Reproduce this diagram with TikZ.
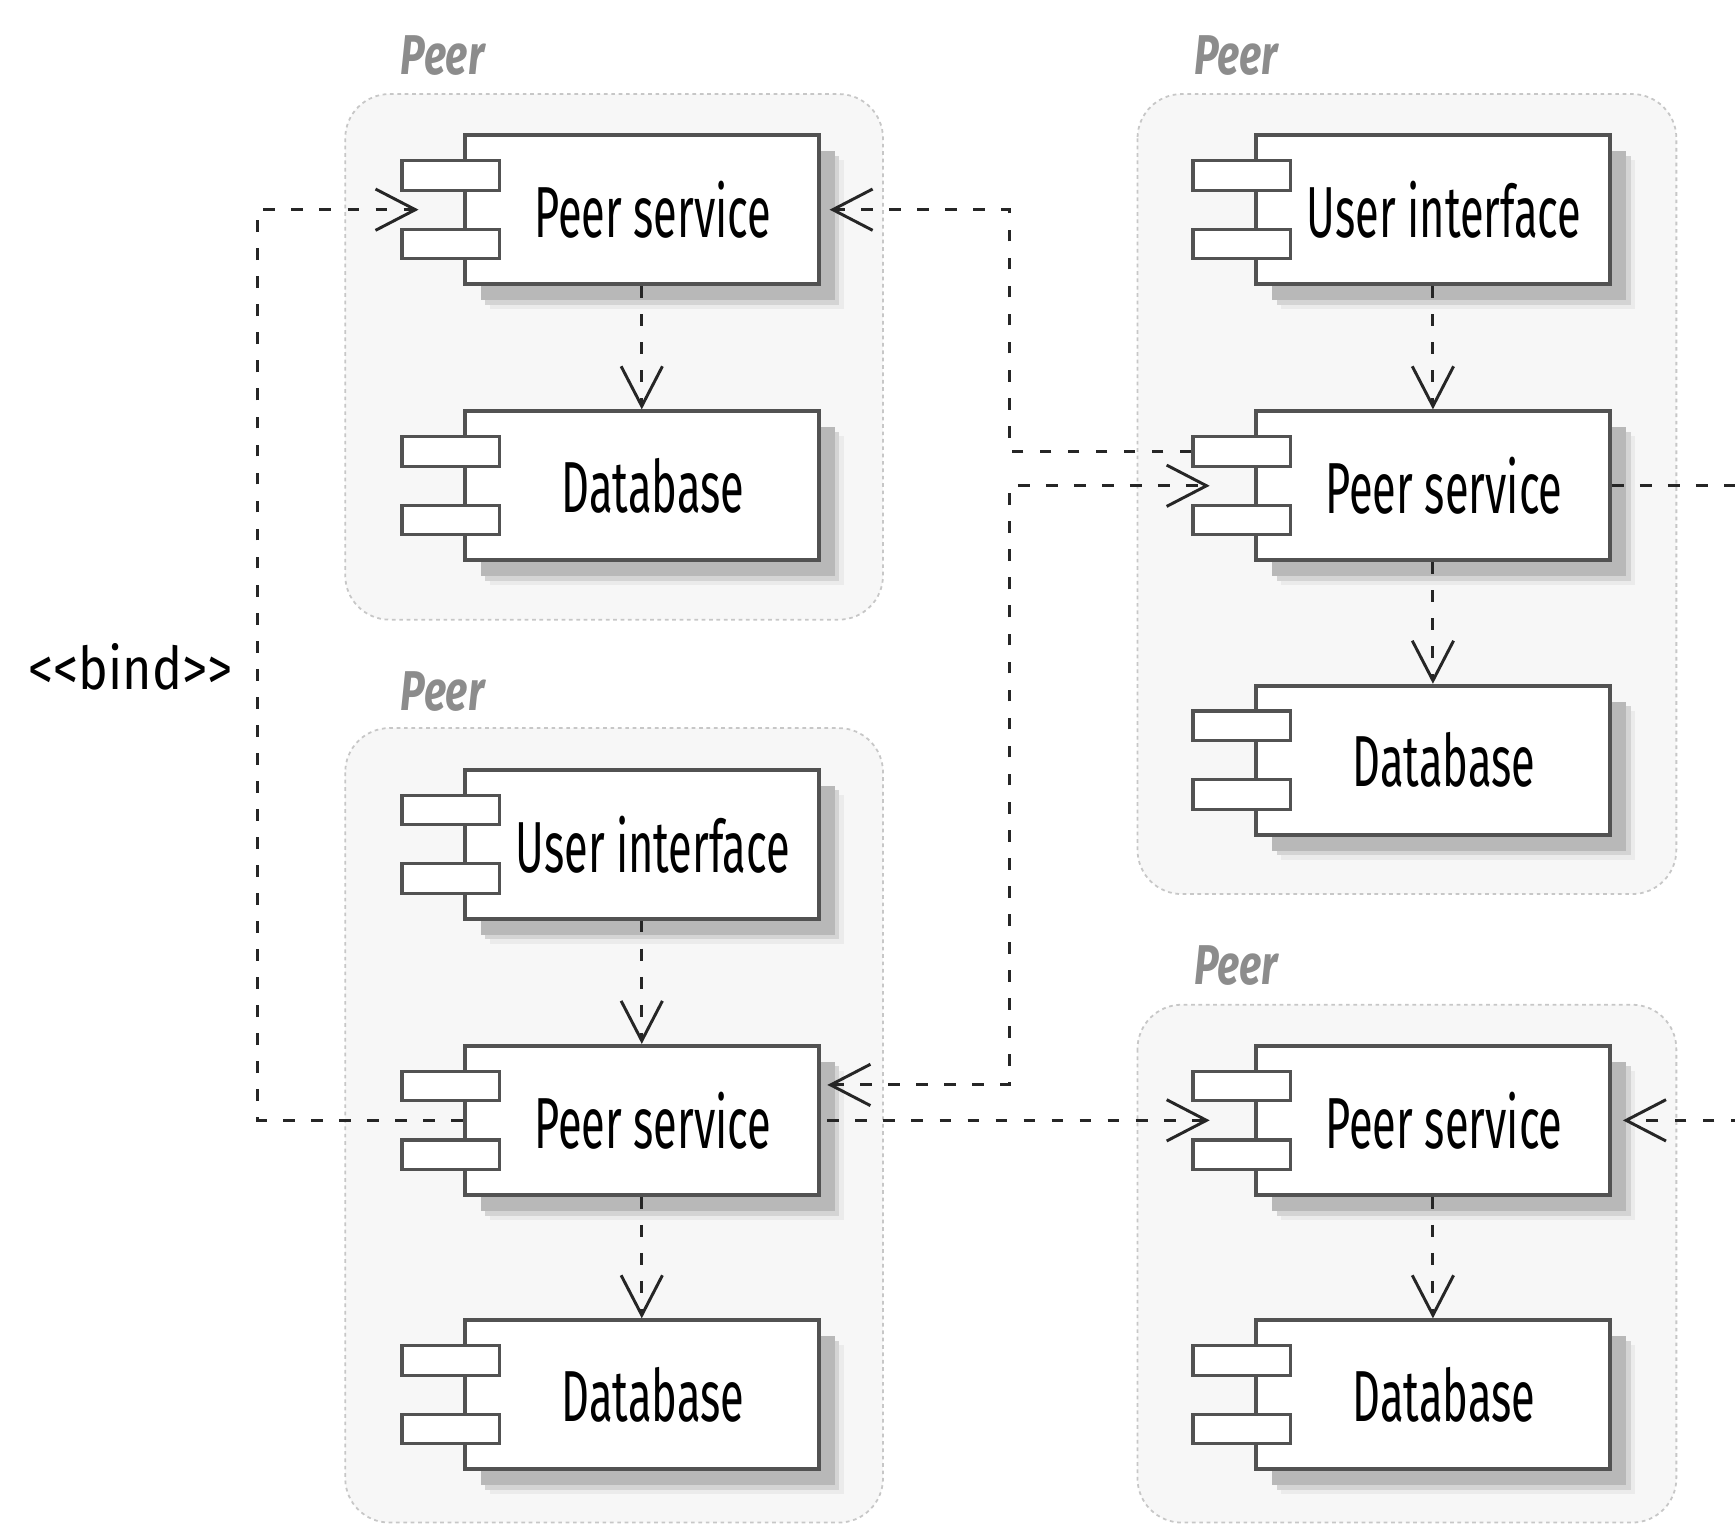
\documentclass[tikz,border=0pt]{standalone}
\usepackage{fontspec}
\setmainfont{Fira Sans}[FakeStretch=0.6]
\newfontfamily\peerfont{Fira Sans}[FakeStretch=0.74]
\newfontfamily\bindfont{Fira Sans}[FakeStretch=0.85]
\usetikzlibrary{calc,shadows,arrows.meta}

\tikzset{
  peerbox/.style={draw=black!22, fill=black!3, line width=1.2pt, dash pattern=on 2.5pt off 2.5pt, rounded corners=30pt},
  peerlabel/.style={text=black!45, inner sep=0pt, font=\peerfont\fontsize{38}{40}\selectfont\bfseries\itshape},
  comp/.style={draw=black!68, fill=white, line width=2.6pt, minimum width=240pt, minimum height=101pt, inner sep=0pt, font=\fontsize{49}{52}\selectfont,
    drop shadow={shadow xshift=17pt, shadow yshift=-17pt, fill=black!8, opacity=1},
    drop shadow={shadow xshift=14pt, shadow yshift=-14pt, fill=black!17, opacity=1},
    drop shadow={shadow xshift=11pt, shadow yshift=-11pt, fill=black!28, opacity=1}},
  port/.style={draw=black!68, fill=white, line width=2.2pt, minimum width=66pt, minimum height=20pt, inner sep=0pt},
  bindlabel/.style={inner sep=0pt, font=\bindfont\fontsize{40}{42}\selectfont},
  dep/.style={draw=black!85, line width=2pt, dash pattern=on 8pt off 11pt, >={Straight Barb[length=27pt,width=28pt,line width=2pt]}, ->},
  depboth/.style={dep, <->},
}

\begin{document}
\begin{tikzpicture}[x=0.75pt,y=0.75pt,yscale=-1,xscale=1]
\useasboundingbox (0,0) rectangle (1568,1378);

%Shape: Peer boxes
\path[peerbox] (312,85) rectangle (798,560);
\path[peerbox] (312,658) rectangle (798,1376);
\path[peerbox] (1028,85) rectangle (1515,808);
\path[peerbox] (1028,908) rectangle (1515,1376);

% Text Node
\node[peerlabel] (peera) at (400,50) {Peer};
% Text Node
\node[peerlabel] (peerb) at (400,625) {Peer};
% Text Node
\node[peerlabel] (peerc) at (1117,50) {Peer};
% Text Node
\node[peerlabel] (peerd) at (1117,873) {Peer};

%Components
\node[comp] (aps) at (580,189.5) {\hspace*{15pt}Peer service};
\node[comp] (adb) at (580,439) {\hspace*{15pt}Database};
\node[comp] (bui) at (580,763) {\hspace*{15pt}User interface};
\node[comp] (bps) at (580,1012.5) {\hspace*{15pt}Peer service};
\node[comp] (bdb) at (580,1260.5) {\hspace*{15pt}Database};
\node[comp] (cui) at (1295,189.5) {\hspace*{15pt}User interface};
\node[comp] (cps) at (1295,439) {\hspace*{15pt}Peer service};
\node[comp] (cdb) at (1295,687) {\hspace*{15pt}Database};
\node[comp] (dps) at (1295,1012.5) {\hspace*{15pt}Peer service};
\node[comp] (ddb) at (1295,1260.5) {\hspace*{15pt}Database};

%Ports
\node[port] (aps-p1) at ($(aps.west)+(-11,-31)$) {};
\node[port] (aps-p2) at ($(aps.west)+(-11,31)$) {};
\node[port] (adb-p1) at ($(adb.west)+(-11,-31)$) {};
\node[port] (adb-p2) at ($(adb.west)+(-11,31)$) {};
\node[port] (bui-p1) at ($(bui.west)+(-11,-31)$) {};
\node[port] (bui-p2) at ($(bui.west)+(-11,31)$) {};
\node[port] (bps-p1) at ($(bps.west)+(-11,-31)$) {};
\node[port] (bps-p2) at ($(bps.west)+(-11,31)$) {};
\node[port] (bdb-p1) at ($(bdb.west)+(-11,-31)$) {};
\node[port] (bdb-p2) at ($(bdb.west)+(-11,31)$) {};
\node[port] (cui-p1) at ($(cui.west)+(-11,-31)$) {};
\node[port] (cui-p2) at ($(cui.west)+(-11,31)$) {};
\node[port] (cps-p1) at ($(cps.west)+(-11,-31)$) {};
\node[port] (cps-p2) at ($(cps.west)+(-11,31)$) {};
\node[port] (cdb-p1) at ($(cdb.west)+(-11,-31)$) {};
\node[port] (cdb-p2) at ($(cdb.west)+(-11,31)$) {};
\node[port] (dps-p1) at ($(dps.west)+(-11,-31)$) {};
\node[port] (dps-p2) at ($(dps.west)+(-11,31)$) {};
\node[port] (ddb-p1) at ($(ddb.west)+(-11,-31)$) {};
\node[port] (ddb-p2) at ($(ddb.west)+(-11,31)$) {};

% Text Node
\node[bindlabel] (bind) at (118,603) {<<bind>>};

%Straight Lines inside peers
\draw[dep] (aps.south) -- (adb.north);
\draw[dep] (bui.south) -- (bps.north);
\draw[dep] (bps.south) -- (bdb.north);
\draw[dep] (cui.south) -- (cps.north);
\draw[dep] (cps.south) -- (cdb.north);
\draw[dep] (dps.south) -- (ddb.north);

%Lines between peers
\coordinate (bindx) at (233,0);
\coordinate (busx) at (912,0);
\coordinate (offr) at (1600,0);
\draw[dep] (bps.west) -- (bps.west -| bindx) -- (aps.west -| bindx) -- ($(aps.west)+(-40,0)$);
\draw[dep] (cps-p1.west) -- (cps-p1.west -| busx) -- (aps.east -| busx) -- ($(aps.east)+(8,0)$);
\draw[depboth] ($(bps.east)+(6,-32)$) coordinate (bout) -- (bout -| busx) -- (cps.west -| busx) -- ($(cps.west)+(-40,0)$);
\draw[dep] ($(bps.east)+(6,0)$) -- ($(dps.west)+(-40,0)$);
\draw[dep, -] (cps.east) -- (cps.east -| offr);
\draw[dep] (dps.east -| offr) -- ($(dps.east)+(10,0)$);

\end{tikzpicture}
\end{document}
